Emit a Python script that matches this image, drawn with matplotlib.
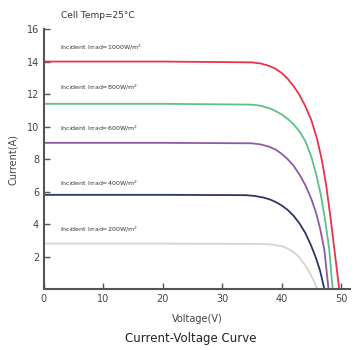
import matplotlib
matplotlib.use("Agg")
import matplotlib.pyplot as plt

# I-V curves (voltage in V, current in A)
v_1000 = [0, 20, 35, 36.5, 38, 39, 40, 41, 42, 43, 44, 45, 46, 46.8, 47.5, 48.2, 48.9, 49.7]
i_1000 = [14.0, 14.0, 13.95, 13.88, 13.72, 13.55, 13.3, 12.95, 12.5, 11.95, 11.25, 10.4, 9.2, 7.9, 6.4, 4.5, 2.4, 0]

v_800 = [0, 20, 35, 36.5, 38, 39, 40, 41, 42, 43, 44, 45, 45.8, 46.6, 47.3, 48, 48.6]
i_800 = [11.4, 11.4, 11.35, 11.28, 11.12, 10.95, 10.75, 10.48, 10.15, 9.7, 9.1, 8.15, 7.1, 5.8, 4.3, 2.5, 0]

v_600 = [0, 20, 35, 36.5, 38, 39, 40, 41, 42, 43, 44, 45, 45.8, 46.5, 47.2, 47.9]
i_600 = [9.0, 9.0, 8.97, 8.9, 8.75, 8.58, 8.33, 8.0, 7.6, 7.05, 6.4, 5.55, 4.7, 3.7, 2.4, 0]

v_400 = [0, 20, 34, 35.5, 37, 38, 39, 40, 41, 42, 43, 44, 45, 45.8, 46.5, 47.2]
i_400 = [5.8, 5.8, 5.78, 5.73, 5.63, 5.52, 5.36, 5.15, 4.88, 4.52, 4.05, 3.45, 2.65, 1.9, 1.1, 0]

v_200 = [0, 20, 37, 38.5, 40, 41, 42, 43, 44, 44.8, 45.5, 46]
i_200 = [2.8, 2.8, 2.78, 2.74, 2.64, 2.5, 2.28, 1.95, 1.45, 0.95, 0.45, 0]

labels = ["Incident Irrad=1000W/m$^2$", "Incident Irrad=800W/m$^2$",
          "Incident Irrad=600W/m$^2$", "Incident Irrad=400W/m$^2$",
          "Incident Irrad=200W/m$^2$"]
label_y = [14.9, 12.4, 9.9, 6.5, 3.7]
colors = ["#e8334a", "#5cc08a", "#8e5aa8", "#2f3566", "#d9d3c8"]

curves = [(v_1000, i_1000), (v_800, i_800), (v_600, i_600),
          (v_400, i_400), (v_200, i_200)]

fig = plt.figure(figsize=(3.6, 3.5), dpi=100)
ax = fig.add_axes([0.122, 0.174, 0.850, 0.743])

for (v, i), c in zip(curves, colors):
    ax.plot(v, i, color=c, lw=1.3, solid_joinstyle="round")

for txt, y in zip(labels, label_y):
    ax.text(2.7, y, txt, fontsize=4.5, color="#333333", va="center")

ax.set_xlim(0, 51.5)
ax.set_ylim(0, 16)
ax.set_xticks([0, 10, 20, 30, 40, 50])
ax.set_yticks([2, 4, 6, 8, 10, 12, 14, 16])

for s in ["top", "right"]:
    ax.spines[s].set_visible(False)
for s in ["left", "bottom"]:
    ax.spines[s].set_color("#555555")
    ax.spines[s].set_linewidth(1.5)

ax.tick_params(direction="in", length=4, width=1, colors="#555555",
               labelsize=7, labelcolor="#444444")

ax.set_xlabel("Voltage(V)", fontsize=7, color="#444444", labelpad=7)
ax.set_ylabel("Current(A)", fontsize=7, color="#444444", labelpad=6)

fig.text(0.17, 0.955, "Cell Temp=25°C", fontsize=6.5, color="#333333", va="center")
fig.text(0.53, 0.033, "Current-Voltage Curve", fontsize=8.5, color="#222222",
         ha="center", va="center")

fig.savefig("out.png", dpi=100)
